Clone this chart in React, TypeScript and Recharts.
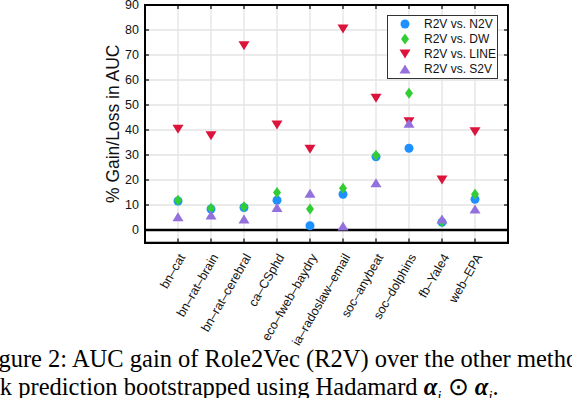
import React from 'react';
import { ScatterChart, Scatter, XAxis, YAxis, CartesianGrid, ReferenceLine, Legend } from 'recharts';

// datasets along the x axis
const datasets = [
    'bn–cat',
    'bn–rat–brain',
    'bn–rat–cerebral',
    'ca–CSphd',
    'eco–fweb–baydry',
    'ia–radoslaw–email',
    'soc–anybeat',
    'soc–dolphins',
    'fb–Yale4',
    'web–EPA',
];

// % gain in AUC
const vsN2V = [11.6, 8.4, 9.0, 11.9, 1.7, 14.3, 29.3, 32.7, 3.1, 12.3];
const vsDW = [11.9, 8.7, 9.3, 15.0, 8.4, 16.7, 29.9, 54.7, 3.3, 14.3];
const vsLINE = [40.3, 37.7, 73.7, 42.0, 32.3, 80.4, 52.7, 43.3, 20.0, 39.3];
const vsS2V = [5.3, 6.0, 4.4, 9.0, 14.7, 1.6, 18.9, 42.7, 4.4, 8.4];

const yTicks = [0, 10, 20, 30, 40, 50, 60, 70, 80, 90];
const xTicks = datasets.map((_, i) => i + 1);
const xDomain = [0, 11];
const yDomain = [-5, 90];
// inward tick length, in axis units (about 4px)
const xTickLen = 0.12;
const yTickLen = 1.6;

const toPoints = (values: number[]) => values.map((y, i) => ({ x: i + 1, y }));

type Kind = 'circle' | 'diamond' | 'down' | 'up';

const series: { name: string; values: number[]; color: string; kind: Kind }[] = [
    { name: 'R2V vs. N2V', values: vsN2V, color: '#1e90ff', kind: 'circle' },
    { name: 'R2V vs. DW', values: vsDW, color: '#32cd32', kind: 'diamond' },
    { name: 'R2V vs. LINE', values: vsLINE, color: '#dc143c', kind: 'down' },
    { name: 'R2V vs. S2V', values: vsS2V, color: '#9370db', kind: 'up' },
];

const Marker = ({ kind, cx, cy, color }: { kind: Kind; cx: number; cy: number; color: string }) => {
    if (kind === 'circle') return <circle cx={cx} cy={cy} r={4.5} fill={color} />;
    let pts: number[][];
    if (kind === 'diamond') pts = [[cx, cy - 5.5], [cx + 4, cy], [cx, cy + 5.5], [cx - 4, cy]];
    else if (kind === 'down') pts = [[cx - 5.5, cy - 4.5], [cx + 5.5, cy - 4.5], [cx, cy + 4.5]];
    else pts = [[cx, cy - 4.5], [cx + 5.5, cy + 4.5], [cx - 5.5, cy + 4.5]];
    return <polygon points={pts.map((p) => p.join(',')).join(' ')} fill={color} />;
};

const sansFont = '"Liberation Sans", Arial, Helvetica, sans-serif';
const serifFont = '"Liberation Serif", "Times New Roman", serif';
const axisStroke = { stroke: '#000', strokeWidth: 1.5 };

const renderLegend = () => (
    <div
        style={{
            border: '1.5px solid #333',
            background: '#fff',
            width: 111,
            height: 64,
            boxSizing: 'border-box',
            fontFamily: sansFont,
            fontSize: 12,
            color: '#111',
            whiteSpace: 'nowrap',
        }}
    >
        {series.map((s) => (
            <div key={s.name} style={{ display: 'flex', alignItems: 'center', height: 15.25 }}>
                <svg width={36} height={14} style={{ flexShrink: 0 }}>
                    <Marker kind={s.kind} cx={17} cy={7} color={s.color} />
                </svg>
                <span>{s.name}</span>
            </div>
        ))}
    </div>
);

const captionStyle: React.CSSProperties = {
    position: 'absolute',
    whiteSpace: 'nowrap',
    fontFamily: serifFont,
    fontSize: 24.5,
    lineHeight: '25px',
    color: '#000',
};

const tickProps = { stroke: '#000', strokeWidth: 1.2 };

const App = () => {
    return (
        <div
            style={{
                position: 'absolute',
                left: 0,
                top: 0,
                width: 572,
                height: 398,
                overflow: 'hidden',
                background: '#fff',
            }}
        >
            <ScatterChart
                width={572}
                height={398}
                margin={{ top: 5, right: 64, left: 108, bottom: 95.5 }}
                style={{ fontFamily: sansFont }}
            >
                <CartesianGrid stroke="#e3e3e3" strokeWidth={1.3} />
                <XAxis
                    type="number"
                    dataKey="x"
                    domain={xDomain}
                    ticks={xTicks}
                    interval={0}
                    tickFormatter={(v: number) => datasets[v - 1]}
                    angle={-60}
                    textAnchor="end"
                    tickLine={false}
                    tickSize={6}
                    tickMargin={4}
                    height={60}
                    axisLine={axisStroke}
                    tick={{ fontSize: 12.5, fill: '#111' }}
                />
                <YAxis
                    type="number"
                    dataKey="y"
                    domain={yDomain}
                    ticks={yTicks}
                    interval={0}
                    width={37}
                    tickLine={false}
                    tickSize={4}
                    tickMargin={2}
                    axisLine={axisStroke}
                    tick={{ fontSize: 12.5, fill: '#111' }}
                    label={{
                        value: '% Gain/Loss in AUC',
                        angle: -90,
                        position: 'insideLeft',
                        offset: 5,
                        style: { textAnchor: 'middle', fontSize: 17.5, fill: '#111' },
                    }}
                />
                {/* inward tick marks on all four sides */}
                {xTicks.map((t) => (
                    <ReferenceLine
                        key={`xb${t}`}
                        segment={[{ x: t, y: yDomain[0] }, { x: t, y: yDomain[0] + yTickLen }]}
                        {...tickProps}
                    />
                ))}
                {xTicks.map((t) => (
                    <ReferenceLine
                        key={`xt${t}`}
                        segment={[{ x: t, y: yDomain[1] }, { x: t, y: yDomain[1] - yTickLen }]}
                        {...tickProps}
                    />
                ))}
                {yTicks.map((t) => (
                    <ReferenceLine
                        key={`yl${t}`}
                        segment={[{ x: xDomain[0], y: t }, { x: xDomain[0] + xTickLen, y: t }]}
                        {...tickProps}
                    />
                ))}
                {yTicks.map((t) => (
                    <ReferenceLine
                        key={`yr${t}`}
                        segment={[{ x: xDomain[1], y: t }, { x: xDomain[1] - xTickLen, y: t }]}
                        {...tickProps}
                    />
                ))}
                <ReferenceLine y={0} stroke="#000" strokeWidth={2.5} />
                {series.map((s) => (
                    <Scatter
                        key={s.name}
                        name={s.name}
                        data={toPoints(s.values)}
                        isAnimationActive={false}
                        shape={(p: any) => <Marker kind={s.kind} cx={p.cx} cy={p.cy} color={s.color} />}
                    />
                ))}
                <Legend
                    layout="vertical"
                    align="center"
                    verticalAlign="middle"
                    content={renderLegend}
                    wrapperStyle={{ left: 387, top: 15, width: 111, height: 64 }}
                />
            </ScatterChart>
            {/* plot box outline */}
            <div
                style={{
                    position: 'absolute',
                    left: 144,
                    top: 4,
                    width: 365,
                    height: 239.5,
                    border: '2px solid #000',
                    boxSizing: 'border-box',
                    pointerEvents: 'none',
                }}
            />
            <div style={{ ...captionStyle, left: -22, top: 346 }}>
                Figure 2: AUC gain of Role2Vec (R2V) over the other methods for link
            </div>
            <div style={{ ...captionStyle, left: -26, top: 374 }}>
                link prediction bootstrapped using Hadamard{' '}
                <b><i>α</i></b><sub style={{ fontSize: 15, fontStyle: 'italic' }}>i</sub>{' '}
                ⊙{' '}
                <b><i>α</i></b><sub style={{ fontSize: 15, fontStyle: 'italic' }}>j</sub>.
            </div>
        </div>
    );
};

export default App;
